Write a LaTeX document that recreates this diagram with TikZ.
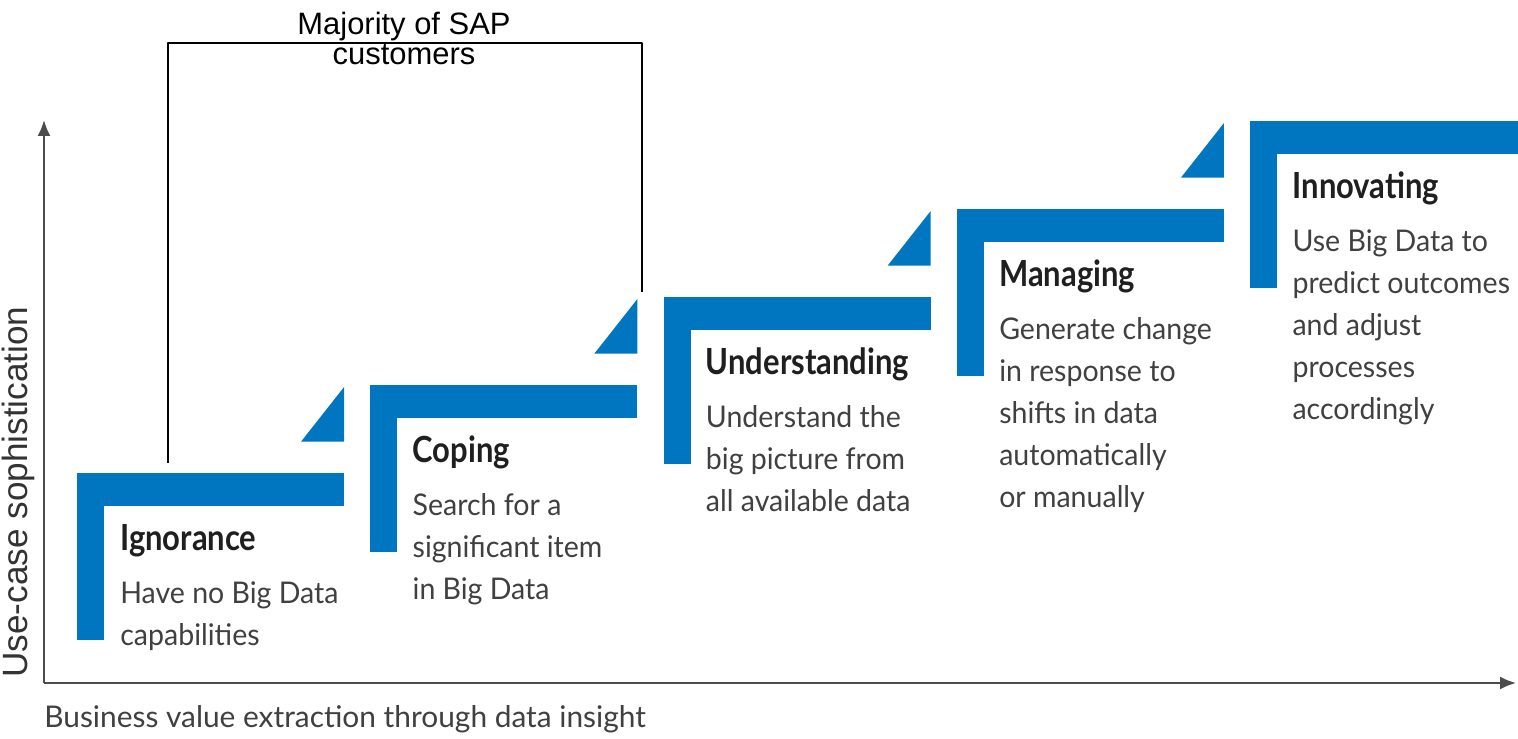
\documentclass[tikz,border=0pt]{standalone}
\usepackage{fontspec}
\setmainfont{Lato}
\newfontfamily\arialfont{Liberation Sans}
\newfontfamily\headfont[FakeStretch=0.86]{Lato}
\newfontfamily\blurbfont[FakeStretch=0.955]{Lato}
\usetikzlibrary{calc,arrows.meta}
\definecolor{stairblue}{RGB}{0,118,192}
\def\stair(#1,#2){\fill[stairblue] (#1,#2) rectangle ++(27,167); \fill[stairblue] (#1,#2) rectangle ++(267,33);}
\def\wedge(#1,#2){\fill[stairblue] (#1,#2) -- ++(0,-54.6) -- ++(-43,54.6) -- cycle;}
\tikzset{
  heading/.style={anchor=base west, inner sep=0pt, text=black!88, font=\headfont\fontsize{20.5pt}{24pt}\selectfont\bfseries},
  blurb/.style={anchor=base west, inner sep=0pt, align=left, text=black!75, font=\blurbfont\fontsize{17pt}{0.84cm}\selectfont},
  axis/.style={line width=0.04cm, draw=black!70}
}

\begin{document}
\begin{tikzpicture}[x=0.02cm, y=-0.02cm]
			%%%%% START %%%%%
			\clip (0,0) rectangle (1518,739);
			
			\coordinate (origin) at (44,683);
			\coordinate (ytop) at (44,120);
			\coordinate (xend) at (1516,683);
			\draw[axis, -{Latex[length=0.32cm,width=0.26cm]}] (origin) -- (ytop);
			\draw[axis, -{Latex[length=0.32cm,width=0.26cm]}] (origin) -- (xend);
			\node[rotate=90, anchor=base west, inner sep=0pt, text=black!80, font=\arialfont\fontsize{20pt}{24pt}\selectfont] (ylabel) at (28,678) {Use-case sophistication};
			\node[anchor=base west, inner sep=0pt, text=black!75, font=\fontsize{17pt}{20pt}\selectfont] (xlabel) at (44,727) {Business value extraction through data insight};
			
			\stair(77,473.3)
			\wedge(344,441.7)
			\stair(370.3,385.3)
			\wedge(637.3,353.7)
			\stair(663.6,297.3)
			\wedge(930.6,265.7)
			\stair(956.9,209.3)
			\wedge(1223.9,177.7)
			\fill[stairblue] (1250,121.3) rectangle ++(27,167);
			\fill[stairblue] (1250,121.3) rectangle (1518,154.3);
			
			% blurbs sit on the baseline of their last line
			\node[heading] (ignorance) at (120,550.3) {Ignorance};
			\node[blurb] (ignorancetext) at (120,645.3) {Have no Big Data\\capabilities};
			\node[heading] (coping) at (412.3,462.3) {Coping};
			\node[blurb] (copingtext) at (412.3,599.3) {Search for a\\significant item\\in Big Data};
			\node[heading] (understanding) at (705.6,374.3) {Understanding};
			\node[blurb] (understandingtext) at (705.6,511.3) {Understand the\\big picture from\\all available data};
			\node[heading] (managing) at (998.9,286.3) {Managing};
			\node[blurb] (managingtext) at (998.9,507.3) {Generate change\\in response to\\shifts in data\\automatically\\or manually};
			\node[heading] (innovating) at (1292.2,198.3) {Innovating};
			\node[blurb] (innovatingtext) at (1292.2,419.3) {Use Big Data to\\predict outcomes\\and adjust\\processes\\accordingly};
			
			\coordinate (bracketleft) at (168,463);
			\coordinate (bracketright) at (642,292);
			\draw[line width=0.05cm, line join=round] (bracketleft) |- (405,43) -| (bracketright);
			\node[anchor=base, inner sep=0pt, align=center, font=\arialfont\fontsize{17.6pt}{0.6cm}\selectfont] (majority) at (404,65) {Majority of SAP\\customers};
			
			%%%%% END %%%%%
\end{tikzpicture}
\end{document}
